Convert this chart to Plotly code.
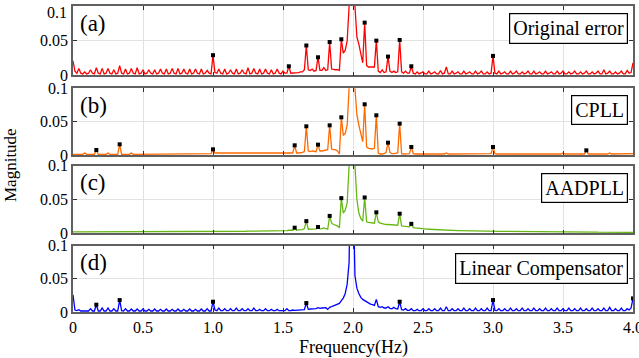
import plotly.graph_objects as go

# Frequency bins (Hz): spectrum sampled every 1/72 Hz from 0 to 4 Hz
FREQ_STEP = 1.0 / 72.0
N_BINS = 289

# Magnitudes in units of 1e-3, one row per 0.5 Hz (36 bins)
mag_original_milli = [
    21, 6, 3, 10, 3, 2, 5, 2, 3, 8, 3, 2, 11, 3, 2, 10, 2, 3, 10, 3, 2, 8, 2, 3, 14, 3, 2, 9, 2, 3, 10, 3, 2, 11, 2, 3,
    8, 2, 3, 8, 3, 2, 8, 2, 3, 9, 3, 2, 9, 2, 3, 10, 3, 2, 10, 2, 3, 9, 3, 2, 9, 2, 3, 9, 3, 2, 9, 2, 3, 7, 3, 2,
    29, 4, 3, 9, 3, 2, 9, 2, 3, 8, 3, 2, 9, 2, 3, 8, 3, 2, 11, 2, 3, 10, 3, 2, 9, 2, 3, 9, 3, 2, 8, 2, 3, 9, 3, 2,
    6, 3, 3, 13, 3, 3, 4, 3, 4, 5, 5, 8, 43, 8, 7, 9, 6, 7, 26, 7, 7, 11, 7, 8, 48, 9, 8, 8, 8, 7, 52, 32, 36, 50, 100, 300,
    200, 100, 55, 45, 33, 18, 76, 14, 12, 12, 11, 12, 50, 6, 4, 8, 4, 5, 27, 6, 4, 6, 4, 5, 51, 5, 3, 6, 3, 3, 13, 3, 2, 5, 2, 3,
    5, 2, 2, 6, 2, 3, 5, 2, 2, 7, 2, 3, 12, 2, 2, 6, 2, 3, 5, 2, 2, 6, 2, 3, 5, 2, 2, 6, 2, 3, 6, 2, 2, 5, 2, 3,
    28, 3, 2, 6, 2, 3, 5, 2, 2, 6, 2, 3, 6, 2, 2, 5, 2, 3, 6, 2, 2, 6, 2, 3, 5, 2, 2, 6, 2, 3, 5, 2, 2, 6, 2, 3,
    6, 2, 2, 5, 2, 3, 6, 2, 2, 5, 2, 3, 6, 2, 2, 5, 2, 3, 6, 2, 2, 8, 2, 3, 6, 2, 2, 5, 2, 3, 6, 2, 2, 7, 3, 4,
    18,
]

mag_cpll_milli = [
    1, 1, 1, 1, 1, 1, 3, 1, 1, 1, 1, 1, 7.5, 1, 1, 1, 1, 1, 3, 1, 1, 1, 1, 1, 16, 1, 1, 1, 1, 1, 3, 1, 1, 1, 1, 1,
    1.5, 1, 1, 1, 1, 1, 1, 1, 1, 1, 1, 1, 1, 1, 1, 1, 1, 1, 1, 1, 1, 1, 1, 1, 1, 1, 1, 1, 1, 1, 1, 1, 1.5, 1.5, 1.5, 2,
    8.5, 3, 3, 3, 3, 3, 3, 2.5, 3, 3, 3, 2.5, 3, 3, 3, 2.5, 3, 3, 3, 3, 2.5, 3, 3, 3, 2.5, 2.5, 3, 3, 3, 2.5, 3, 2.5, 2.5, 2.5, 2.5, 2,
    3, 2, 2, 3, 2, 3, 14.5, 3, 3, 3, 4, 5, 43, 6, 5, 6, 5, 5, 15.5, 6, 6, 7, 7, 8, 44.5, 9, 8, 8, 6, 1.5, 56.5, 30, 32, 45, 100, 300,
    200, 100, 60, 45, 30, 20, 76, 12, 10, 9, 9, 10, 59.5, 3, 1.5, 1.5, 2, 4, 18.5, 4, 2, 2, 2, 3, 47, 2, 1.5, 2, 1.5, 2, 12, 2, 1.5, 1.5, 1.5, 1.5,
    1.5, 1.5, 1.5, 1.5, 1.5, 1.5, 1.5, 1.5, 1.5, 1.5, 1.5, 1.5, 3, 1.5, 1.5, 1.5, 1.5, 1.5, 1.5, 1.5, 1.5, 1.5, 1.5, 1.5, 1.5, 1.5, 1.5, 1.5, 1.5, 1.5, 1.5, 1.5, 1.5, 1.5, 1.5, 2,
    12, 2, 1.5, 1.5, 1.5, 1.5, 1.5, 1.5, 1.5, 1.5, 1.5, 1.5, 1.5, 1.5, 1.5, 1.5, 1.5, 1.5, 1.5, 1.5, 1.5, 1.5, 1.5, 1.5, 1.5, 1.5, 1.5, 1.5, 1.5, 1.5, 1.5, 1.5, 1.5, 1.5, 1.5, 1.5,
    3, 1.5, 1.5, 1.5, 1.5, 1.5, 1.5, 1.5, 1.5, 1.5, 1.5, 1.5, 7, 1.5, 1.5, 1.5, 1.5, 1.5, 1.5, 1.5, 1.5, 1.5, 1.5, 1.5, 3, 1.5, 1.5, 1.5, 1.5, 1.5, 1.5, 1.5, 1.5, 1.5, 1.5, 1.5,
    2,
]

mag_aadpll_milli = [
    2, 2, 2, 2, 2, 2, 2, 2, 2, 2, 2, 2, 2, 2, 2, 2, 2, 2, 2, 2, 2, 2, 2, 2, 2, 2, 2, 2, 2, 2, 2, 2, 2, 2, 2, 2,
    2, 2, 2, 2, 2, 2, 2, 2, 2, 2, 2, 2, 2.2, 2.2, 2.2, 2.2, 2.2, 2.2, 2.3, 2.3, 2.3, 2.3, 2.3, 2.3, 2.4, 2.4, 2.4, 2.4, 2.4, 2.4, 2.5, 2.5, 2.5, 2.5, 2.5, 2.5,
    2.6, 2.6, 2.6, 2.6, 2.6, 2.6, 2.8, 2.8, 2.8, 2.8, 2.8, 2.8, 3, 3, 3, 3, 3, 3, 3.2, 3.2, 3.2, 3.2, 3.2, 3.2, 3.4, 3.4, 3.4, 3.4, 3.4, 3.4, 3.6, 3.6, 3.6, 3.6, 3.6, 3.6,
    4, 4, 4, 4.5, 4, 4.5, 8.3, 4.5, 5, 5, 5.5, 7, 18, 6, 6, 6.5, 6, 6.5, 9.3, 6.5, 7, 8, 7, 6, 25.7, 15, 13, 12, 11, 8, 52, 30, 34, 45, 100, 300,
    200, 100, 50, 30, 22, 18, 53, 17, 16, 16, 15, 15, 31, 17, 15, 14, 14, 13, 13, 13, 12.5, 12, 12, 12, 29, 11, 10.5, 10, 10, 9.5, 14, 8.5, 8, 7.5, 7, 7,
    6.5, 6.3, 6.1, 6, 5.8, 5.6, 5.5, 5.3, 5.2, 5, 4.9, 4.8, 4.6, 4.5, 4.4, 4.3, 4.2, 4.1, 4, 3.9, 3.8, 3.7, 3.6, 3.6, 3.5, 3.4, 3.4, 3.3, 3.3, 3.2, 3.2, 3.1, 3.1, 3, 3, 3,
    3, 2.9, 2.9, 2.9, 2.8, 2.8, 2.8, 2.7, 2.7, 2.7, 2.6, 2.6, 2.6, 2.5, 2.5, 2.5, 2.4, 2.4, 2.4, 2.3, 2.3, 2.3, 2.3, 2.2, 2.2, 2.2, 2.2, 2.1, 2.1, 2.1, 2.1, 2, 2, 2, 2, 2,
    2, 2, 1.9, 1.9, 1.9, 1.9, 1.9, 1.8, 1.8, 1.8, 1.8, 1.8, 1.7, 1.7, 1.7, 1.7, 1.7, 1.7, 1.6, 1.6, 1.6, 1.6, 1.6, 1.6, 1.6, 1.5, 1.5, 1.5, 1.5, 1.5, 1.5, 1.5, 1.5, 1.5, 1.5, 1.5,
    1.5,
]

mag_linear_milli = [
    26, 3, 2, 3.5, 1.5, 1.5, 2, 1.5, 1.5, 5, 1.5, 1.5, 11, 1.5, 1.5, 6, 1.5, 1.5, 6, 1.5, 1.5, 5, 1.5, 1.5, 18, 2, 1.5, 5, 1.5, 1.5, 4.5, 1.5, 1.5, 4.5, 1.5, 1.5,
    4.5, 1.5, 1.5, 4, 1.5, 1.5, 4.5, 1.5, 1.5, 4, 1.5, 1.5, 4.5, 1.5, 1.5, 4, 1.5, 1.5, 4.5, 1.5, 1.5, 4, 1.5, 1.5, 4.5, 1.5, 1.5, 4, 1.5, 1.5, 4.5, 1.5, 1.5, 5, 1.5, 1.5,
    15.5, 3, 2, 6, 2, 2, 5, 2, 2, 5, 2, 2, 6, 2, 2, 5, 2, 2, 5, 2, 2, 6, 2, 2, 4, 2, 2, 5, 2, 2, 4, 2, 2, 4, 2, 2,
    2, 2, 5, 2, 2, 3, 2.5, 2.5, 3, 3, 3, 3.5, 13.5, 4, 4.5, 4.5, 5, 5, 6.5, 5.5, 6, 6, 6.5, 4, 7, 8, 9, 10, 11, 13, 17, 21, 28, 42, 75, 300,
    200, 55, 36, 28, 22, 19, 17, 15, 13, 12, 11, 10, 19, 8, 7, 8, 6, 6, 8, 5.5, 5, 7, 5, 4.5, 15.5, 3.5, 3, 5, 2.5, 2.5, 5, 2, 2, 4, 2, 2,
    5, 2, 2, 5, 2, 2, 5, 2, 2, 6, 2, 2, 8, 2, 2, 5, 2, 2, 5, 2, 2, 6, 2, 2, 5, 2, 2, 6, 2, 2, 5, 2, 2, 6, 2, 2,
    18, 2.5, 2, 5, 2, 2, 5, 2, 2, 6, 2, 2, 5, 2, 2, 6, 2, 2, 5, 2, 2, 6, 2, 2, 5, 2, 2, 6, 2, 2, 5, 2, 2, 6, 2, 2,
    5, 2, 2, 6, 2, 2, 5, 2, 2, 6, 2, 2, 5, 2, 2, 6, 2, 2, 5, 2, 2, 6, 2, 2, 7, 2, 2, 5, 2, 2, 6, 2, 2, 5, 3, 6,
    20.5,
]

# Marked harmonic peaks (Hz)
marks_original = [1.0, 1.542, 1.667, 1.75, 1.833, 1.917, 2.083, 2.167, 2.25, 2.333, 2.417, 3.0]
marks_cpll = [0.167, 0.333, 1.0, 1.583, 1.667, 1.75, 1.833, 1.917, 2.083, 2.167, 2.25, 2.333, 2.417, 3.0, 3.667]
marks_aadpll = [1.583, 1.667, 1.75, 1.833, 1.917, 2.083, 2.167, 2.333, 2.417]
marks_linear = [0.167, 0.333, 1.0, 1.667, 2.333, 3.0, 4.0]

panel_tags = ["(a)", "(b)", "(c)", "(d)"]
legend_names = ["Original error", "CPLL", "AADPLL", "Linear Compensator"]
line_colors = ["#ff0000", "#ff6a00", "#66b814", "#0000ff"]

x_tick_vals = [0, 0.5, 1.0, 1.5, 2.0, 2.5, 3.0, 3.5, 4.0]
x_tick_text = ["0", "0.5", "1.0", "1.5", "2.0", "2.5", "3.0", "3.5", "4.0"]
y_tick_vals = [0, 0.05, 0.1]
y_tick_text = ["0", "0.05", "0.1"]

series = [mag_original_milli, mag_cpll_milli, mag_aadpll_milli, mag_linear_milli]
marks = [marks_original, marks_cpll, marks_aadpll, marks_linear]
for s in series:
    assert len(s) == N_BINS, len(s)

freqs = [i * FREQ_STEP for i in range(N_BINS)]

W, H = 639, 358
ML, MR, MT, MB = 73, 6, 6, 46
plot_h = H - MT - MB
# panel pixel extents (top, bottom) in page coordinates
panel_px = [(6, 75.3), (88.3, 155), (165.7, 233.3), (245.7, 312)]
domains = [[(H - MB - b) / plot_h, (H - MB - t) / plot_h] for t, b in panel_px]
domains = [[max(0, d0), min(1, d1)] for d0, d1 in domains]

FONT = "Liberation Serif, Times New Roman, serif"

fig = go.Figure()
layout = dict(
    width=W, height=H,
    margin=dict(l=ML, r=MR, t=MT, b=MB, autoexpand=False),
    paper_bgcolor="white", plot_bgcolor="white",
    showlegend=False,
    font=dict(family=FONT, size=16, color="black"),
    annotations=[],
)

for i in range(4):
    xa = "x" if i == 0 else f"x{i+1}"
    ya = "y" if i == 0 else f"y{i+1}"
    mags = [v / 1000.0 for v in series[i]]
    fig.add_trace(go.Scatter(
        x=freqs, y=mags, xaxis=xa, yaxis=ya, mode="lines",
        line=dict(color=line_colors[i], width=1.3), hoverinfo="skip",
    ))
    idx = [round(f / FREQ_STEP) for f in marks[i]]
    fig.add_trace(go.Scatter(
        x=[freqs[k] for k in idx], y=[mags[k] for k in idx], xaxis=xa, yaxis=ya,
        mode="markers", marker=dict(symbol="square", size=4, color="black"),
        cliponaxis=False, hoverinfo="skip",
    ))
    axis_common = dict(
        showline=True, linecolor="#606060", linewidth=1.5, mirror="ticks",
        ticks="inside", ticklen=4, tickwidth=1, tickcolor="#303030",
        showgrid=True, gridcolor="#e2e2e2", gridwidth=1, zeroline=False,
        tickfont=dict(family=FONT, size=16, color="black"), automargin=False,
    )
    layout["xaxis" if i == 0 else f"xaxis{i+1}"] = dict(
        axis_common, domain=[0, 1], range=[0, 4], anchor=ya,
        tickvals=x_tick_vals, ticktext=x_tick_text, showticklabels=(i == 3),
        ticklabeloverflow="allow",
        matches=None if i == 0 else "x",
    )
    if i == 0:
        # top panel: the "0.1" label sits just below the page top, placed as text
        yv, yt = y_tick_vals[:-1], y_tick_text[:-1]
    else:
        yv, yt = y_tick_vals, y_tick_text
    layout["yaxis" if i == 0 else f"yaxis{i+1}"] = dict(
        axis_common, domain=domains[i], range=[0, 0.1], anchor=xa,
        tickvals=yv, ticktext=yt,
    )
    xd = f"{xa} domain"
    yd = f"{ya} domain"
    ph = panel_px[i][1] - panel_px[i][0]
    layout["annotations"].append(dict(
        text=panel_tags[i], xref=xd, yref=yd, x=5 / 560, y=1 - 17 / ph,
        xanchor="left", yanchor="middle", showarrow=False,
        font=dict(family=FONT, size=23, color="black"),
    ))
    layout["annotations"].append(dict(
        text=legend_names[i], xref=xd, yref=yd, x=1 - 5 / 560, y=1 - 7 / ph,
        xanchor="right", yanchor="top", showarrow=False,
        font=dict(family=FONT, size=20, color="black"),
        bordercolor="black", borderwidth=1.2, borderpad=3, bgcolor="white",
    ))

layout["annotations"].append(dict(
    text=y_tick_text[-1], xref="paper", yref="paper", x=-4 / (W - ML - MR), y=(312 - 12.5) / plot_h,
    xanchor="right", yanchor="middle", showarrow=False,
    font=dict(family=FONT, size=16, color="black"),
))
layout["annotations"].append(dict(
    text="Frequency(Hz)", xref="paper", yref="paper", x=0.5, y=-(347 - 312) / plot_h,
    xanchor="center", yanchor="middle", showarrow=False,
    font=dict(family=FONT, size=18, color="black"),
))
layout["annotations"].append(dict(
    text="Magnitude", xref="paper", yref="paper", x=-(73 - 11) / (W - ML - MR), y=(312 - 165) / plot_h,
    xanchor="center", yanchor="middle", textangle=-90, showarrow=False,
    font=dict(family=FONT, size=17, color="black"),
))

fig.update_layout(**layout)
fig.write_html(
    "out.html",
    config={"displayModeBar": False},
    post_script="document.body.style.margin='0';document.body.style.padding='0';",
)
